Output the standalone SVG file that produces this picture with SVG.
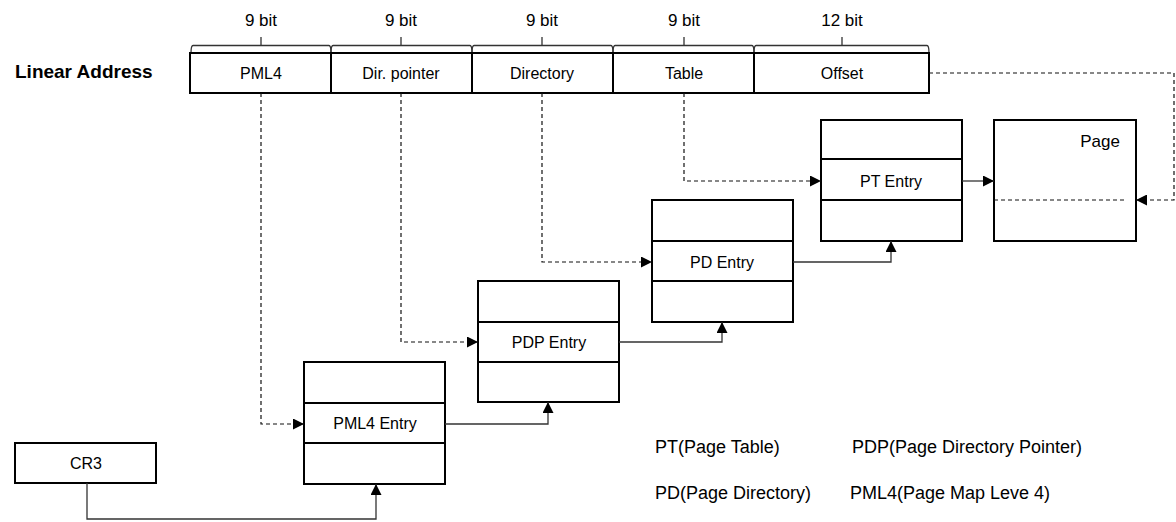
<svg xmlns="http://www.w3.org/2000/svg" width="1176" height="522" viewBox="0 0 1176 522">
<style>
text{font-family:"Liberation Sans",Arial,sans-serif;fill:#000}
.box{fill:#fff;stroke:#000;stroke-width:2}
.div{stroke:#000;stroke-width:2}
.lbl{font-size:16px;text-anchor:middle}
.bit{font-size:17px;text-anchor:middle}
.leg{font-size:18px}
.dash{fill:none;stroke:#111;stroke-width:1.2;stroke-dasharray:4,3}
.solid{fill:none;stroke:#333;stroke-width:1.3}
.brace{fill:none;stroke:#333;stroke-width:1.3}
</style>
<defs>
<marker id="arr" viewBox="0 0 10 10" refX="10" refY="5" markerWidth="11" markerHeight="11" markerUnits="userSpaceOnUse" orient="auto">
<path d="M0,0 L10,5 L0,10 Z" fill="#000"/>
</marker>
</defs>
<rect width="1176" height="522" fill="#fff"/>
<g id="title"><text x="15" y="78" style="font-size:19px;font-weight:bold">Linear Address</text></g>
<g id="braces">
<path class="brace" d="M191,53 Q191,45.5 193,45.5 L329,45.5 Q331,45.5 331,53 M261,45.5 V37"/>
<path class="brace" d="M331,53 Q331,45.5 333,45.5 L470,45.5 Q472,45.5 472,53 M401,45.5 V37"/>
<path class="brace" d="M472,53 Q472,45.5 474,45.5 L611,45.5 Q613,45.5 613,53 M542,45.5 V37"/>
<path class="brace" d="M613,53 Q613,45.5 615,45.5 L752,45.5 Q754,45.5 754,53 M684,45.5 V37"/>
<path class="brace" d="M754,53 Q754,45.5 756,45.5 L927,45.5 Q929,45.5 929,53 M842,45.5 V37"/>
<text class="bit" x="261" y="26">9 bit</text>
<text class="bit" x="401" y="26">9 bit</text>
<text class="bit" x="542" y="26">9 bit</text>
<text class="bit" x="684" y="26">9 bit</text>
<text class="bit" x="842" y="26">12 bit</text>
</g>
<g id="linear-address">
<rect class="box" x="190" y="53" width="739" height="40"/>
<line class="div" x1="331" y1="53" x2="331" y2="93"/>
<line class="div" x1="472" y1="53" x2="472" y2="93"/>
<line class="div" x1="613" y1="53" x2="613" y2="93"/>
<line class="div" x1="754" y1="53" x2="754" y2="93"/>
<text class="lbl" x="261" y="79">PML4</text>
<text class="lbl" x="401" y="79">Dir. pointer</text>
<text class="lbl" x="542" y="79">Directory</text>
<text class="lbl" x="684" y="79">Table</text>
<text class="lbl" x="842" y="79">Offset</text>
</g>
<g id="cr3">
<rect class="box" x="15" y="443" width="141" height="40"/>
<text class="lbl" x="86" y="469">CR3</text>
</g>
<g id="pml4-table">
<rect class="box" x="304" y="362" width="141" height="122"/>
<line class="div" x1="304" y1="403" x2="445" y2="403"/>
<line class="div" x1="304" y1="443" x2="445" y2="443"/>
<text class="lbl" x="375" y="429">PML4 Entry</text>
</g>
<g id="pdp-table">
<rect class="box" x="478" y="281" width="141" height="121"/>
<line class="div" x1="478" y1="322" x2="619" y2="322"/>
<line class="div" x1="478" y1="362" x2="619" y2="362"/>
<text class="lbl" x="549" y="348">PDP Entry</text>
</g>
<g id="pd-table">
<rect class="box" x="652" y="200" width="141" height="122"/>
<line class="div" x1="652" y1="241" x2="793" y2="241"/>
<line class="div" x1="652" y1="281" x2="793" y2="281"/>
<text class="lbl" x="722" y="268">PD Entry</text>
</g>
<g id="pt-table">
<rect class="box" x="821" y="120" width="141" height="121"/>
<line class="div" x1="821" y1="159" x2="962" y2="159"/>
<line class="div" x1="821" y1="200" x2="962" y2="200"/>
<text class="lbl" x="891" y="187">PT Entry</text>
</g>
<g id="page">
<rect class="box" x="994" y="120" width="142" height="121"/>
<text x="1100" y="147" style="font-size:17px;text-anchor:middle">Page</text>
</g>
<g id="connectors">
<path class="dash" d="M261,93 V424 H304" marker-end="url(#arr)"/>
<path class="dash" d="M401,93 V342 H478" marker-end="url(#arr)"/>
<path class="dash" d="M542,93 V262 H652" marker-end="url(#arr)"/>
<path class="dash" d="M684,93 V181 H821" marker-end="url(#arr)"/>
<path class="dash" d="M929,73 H1174 V200 H1136" marker-end="url(#arr)"/>
<path class="dash" d="M994,200 H1126"/>
<path class="solid" d="M87,483 V519 H376 V484" marker-end="url(#arr)"/>
<path class="solid" d="M445,424 H548 V402" marker-end="url(#arr)"/>
<path class="solid" d="M619,342 H722 V322" marker-end="url(#arr)"/>
<path class="solid" d="M793,262 H891 V241" marker-end="url(#arr)"/>
<path class="solid" d="M962,181 H994" marker-end="url(#arr)"/>
</g>
<g id="legend">
<text class="leg" x="655" y="453">PT(Page Table)</text>
<text class="leg" x="852" y="453">PDP(Page Directory Pointer)</text>
<text class="leg" x="655" y="499">PD(Page Directory)</text>
<text class="leg" x="850" y="499">PML4(Page Map Leve 4)</text>
</g>
</svg>
